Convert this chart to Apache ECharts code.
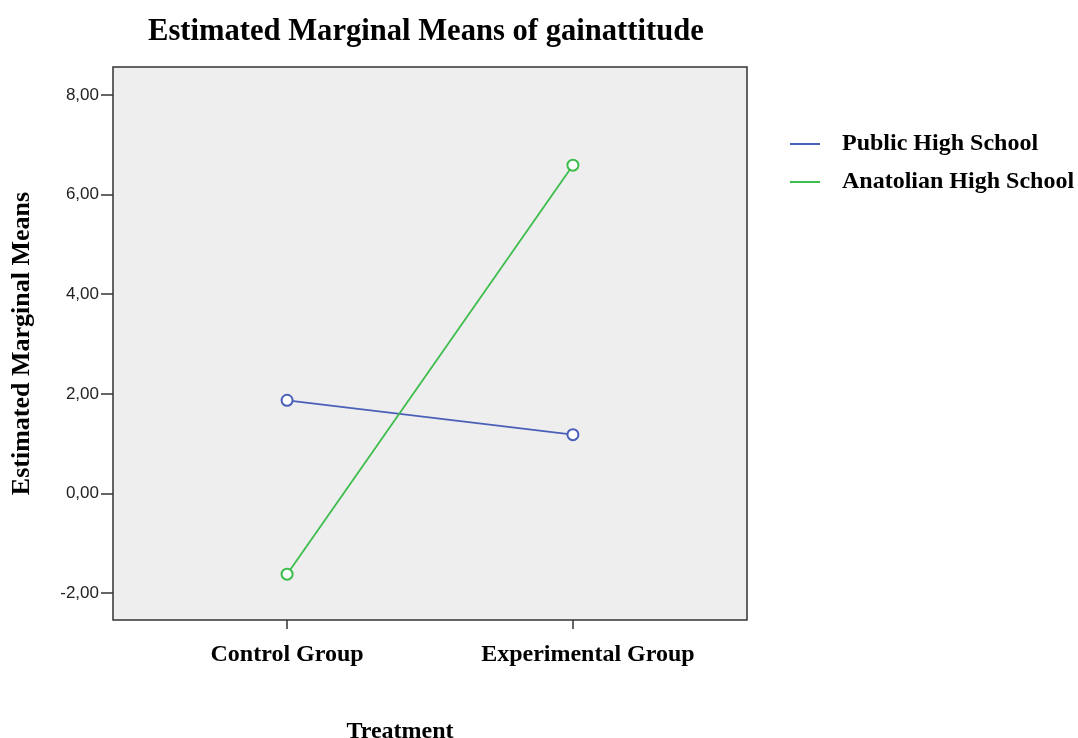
<!DOCTYPE html>
<html>
<head>
<meta charset="utf-8">
<title>Estimated Marginal Means of gainattitude</title>
<script src="https://cdn.jsdelivr.net/npm/echarts@6/dist/echarts.min.js"></script>
<style>
  html, body { margin: 0; padding: 0; background: #fff; }
  #main { width: 1078px; height: 738px; }
</style>
</head>
<body>
<div id="main"></div>
<script type="text/javascript">
var categories = ['Control Group', 'Experimental Group'];
var groups = ['Public High School', 'Anatolian High School'];
var publicMeans = [1.87, 1.18];
var anatolianMeans = [-1.62, 6.59];
var yTicks = [-2, 0, 2, 4, 6, 8];
var colors = ['#4a60b8', '#3cbd4c'];

var serif = '"Liberation Serif", "Times New Roman", serif';

function toPoints(vals) {
  return vals.map(function (v, i) { return [i + 1, v]; });
}

var chart = echarts.init(document.getElementById('main'));

var option = {
  animation: false,
  title: {
    text: 'Estimated Marginal Means of gainattitude',
    left: 148,
    top: 17,
    padding: 0,
    textStyle: { fontFamily: serif, fontWeight: 'bold', fontSize: 30.6, color: '#000' }
  },
  legend: {
    orient: 'vertical',
    left: 790,
    top: 131,
    padding: 0,
    icon: 'rect',
    itemWidth: 30,
    itemHeight: 2,
    itemGap: 12,
    data: groups,
    textStyle: { fontFamily: serif, fontWeight: 'bold', fontSize: 24, color: '#000', lineHeight: 26, padding: [0, 0, 0, 17] }
  },
  grid: {
    left: 113,
    right: 331,
    top: 67,
    bottom: 118,
    outerBoundsMode: 'none',
    containLabel: false,
    show: true,
    backgroundColor: '#eeeeee',
    borderColor: '#333',
    borderWidth: 1.5
  },
  xAxis: {
    type: 'value',
    min: 0.391,
    max: 2.609,
    name: 'Treatment',
    nameLocation: 'middle',
    nameGap: 100,
    nameTextStyle: { fontFamily: serif, fontWeight: 'bold', fontSize: 24, color: '#000', padding: [0, 60, 0, 0] },
    axisLine: { show: false, onZero: false },
    splitLine: { show: false },
    axisTick: { show: true, length: 9, customValues: [1, 2], lineStyle: { color: '#333', width: 1.5 } },
    axisLabel: {
      customValues: [1, 2],
      margin: 23,
      fontFamily: serif, fontWeight: 'bold', fontSize: 24, color: '#000',
      formatter: function (v) {
        var i = Math.round(v) - 1;
        return i === 1 ? '{shift|' + categories[i] + '}' : (categories[i] || '');
      },
      rich: {
        shift: { fontFamily: serif, fontWeight: 'bold', fontSize: 24, color: '#000', padding: [0, 0, 0, 30] }
      }
    }
  },
  yAxis: {
    type: 'value',
    min: -2.54,
    max: 8.56,
    name: 'Estimated Marginal Means',
    nameLocation: 'middle',
    nameGap: 78,
    nameTextStyle: { fontFamily: serif, fontWeight: 'bold', fontSize: 26, color: '#000' },
    axisLine: { show: false, onZero: false },
    splitLine: { show: false },
    axisTick: { show: true, length: 12, customValues: yTicks, lineStyle: { color: '#333', width: 1.5 } },
    axisLabel: {
      customValues: yTicks,
      margin: 14,
      fontFamily: '"Liberation Sans", Arial, sans-serif', fontSize: 17, color: '#222',
      formatter: function (v) { return v.toFixed(2).replace('.', ','); }
    }
  },
  series: [
    {
      name: groups[0],
      type: 'line',
      data: toPoints(publicMeans),
      color: colors[0],
      symbol: 'emptyCircle',
      symbolSize: 11,
      lineStyle: { width: 1.8 },
      itemStyle: { borderWidth: 1.5 }
    },
    {
      name: groups[1],
      type: 'line',
      data: toPoints(anatolianMeans),
      color: colors[1],
      symbol: 'emptyCircle',
      symbolSize: 11,
      lineStyle: { width: 1.8 },
      itemStyle: { borderWidth: 1.5 }
    }
  ]
};

chart.setOption(option);
</script>
</body>
</html>
